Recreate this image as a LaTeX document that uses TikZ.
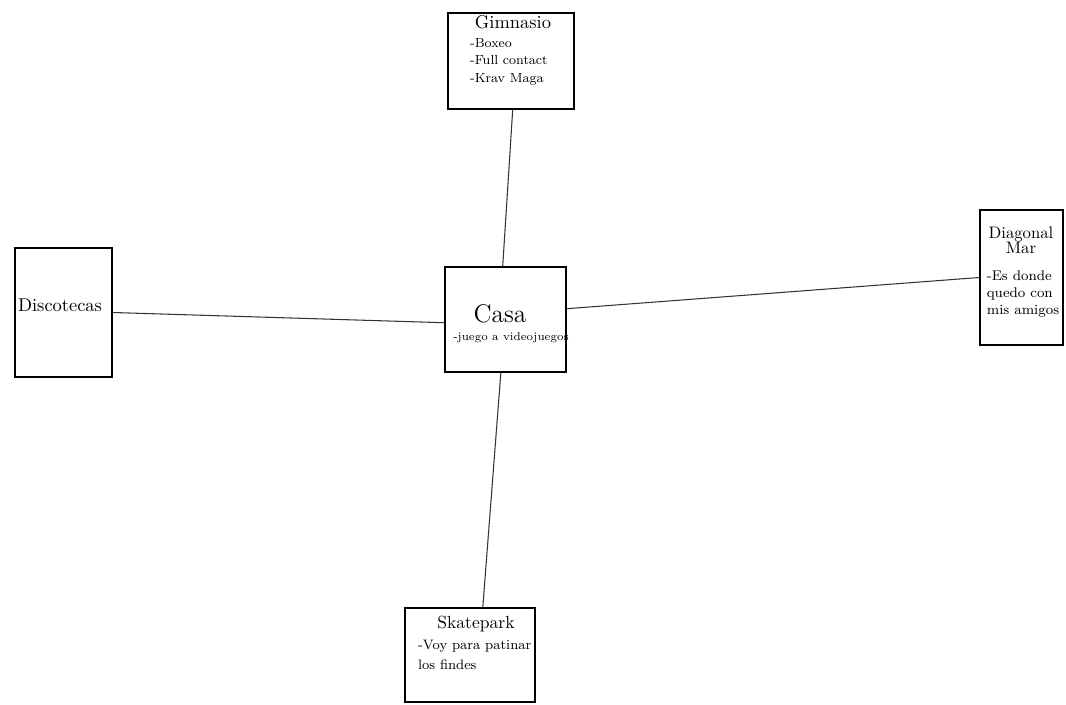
\documentclass[tikz,border=0pt]{standalone}

\begin{document}
\begin{tikzpicture}[
    x=0.02cm, y=-0.02cm,
    box/.style={rectangle, draw, line width=0.9pt, inner sep=0pt},
    link/.style={line width=0.6pt, draw=black!80},
    title/.style={inner sep=1pt, align=center},
    notes/.style={inner sep=1pt, align=left}
]
\useasboundingbox (0,0) rectangle (1066,704);

% Centre: home
\node[box, minimum width=2.42cm, minimum height=2.1cm] (casa) at (505.5,319.5) {};
\node[title, font=\fontsize{14.5}{15}\selectfont] (casat) at (500,314) {Casa};
\node[notes, font=\fontsize{6.5}{8}\selectfont] (casan) at (511,338) {-juego a videojuegos};

% Places around it
\node[box, minimum width=2.52cm, minimum height=1.92cm] (gym) at (511,61) {};
\node[title, font=\fontsize{10.5}{12}\selectfont] (gymt) at (513,22) {Gimnasio};
\node[notes, anchor=north west, font=\fontsize{7.5}{10}\selectfont] (gymn) at (468,36) {-Boxeo\\-Full contact\\-Krav Maga};

\node[box, minimum width=1.66cm, minimum height=2.7cm] (diag) at (1021.5,277.5) {};
\node[title, font=\fontsize{9.5}{8.5}\selectfont] (diagt) at (1021,240) {Diagonal\\Mar};
\node[notes, font=\fontsize{8}{9.5}\selectfont] (diagn) at (1023,294) {-Es donde\\quedo con\\mis amigos};

\node[box, minimum width=2.6cm, minimum height=1.88cm] (skate) at (470,655) {};
\node[title, font=\fontsize{10}{12}\selectfont] (skatet) at (476,624) {Skatepark};
\node[notes, anchor=north west, font=\fontsize{7.8}{11.5}\selectfont] (skaten) at (416,638) {-Voy para patinar\\los findes};

\node[box, minimum width=1.94cm, minimum height=2.58cm] (disco) at (63.5,312.5) {};
\node[title, font=\fontsize{10.5}{12}\selectfont] (discot) at (60,305) {Discotecas};

% Links from home
\draw[link] (casa.93) -- (gym.272);
\draw[link] (casa.183) -- (disco.east);
\draw[link] (casa.10) -- (diag.west);
\draw[link] (casa.265) -- (skate.75);

\end{tikzpicture}
\end{document}
